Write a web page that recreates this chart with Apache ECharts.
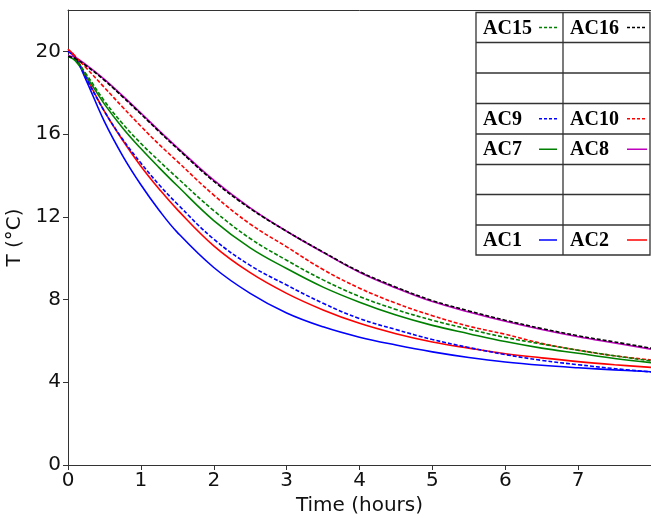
<!DOCTYPE html>
<html><head><meta charset="utf-8">
<script src="https://cdn.jsdelivr.net/npm/echarts@6/dist/echarts.min.js"></script>
<style>html,body{margin:0;padding:0;background:#fff}#c{width:651px;height:518px}</style>
</head><body><div id="c"></div><script>
const hours = [0,0.1,0.25,0.5,0.75,1,1.25,1.5,2,2.5,3,3.5,4,4.5,5,5.5,6,6.5,7,7.5,8];
const AC1  = [20.0,19.7,18.6,16.6,14.95,13.55,12.32,11.25,9.55,8.3,7.35,6.68,6.18,5.8,5.47,5.2,4.98,4.82,4.7,4.6,4.51];
const AC2  = [20.1,19.75,18.75,17.1,15.7,14.45,13.35,12.35,10.6,9.3,8.3,7.5,6.85,6.35,5.95,5.65,5.38,5.18,5.0,4.85,4.72];
const AC7  = [19.75,19.55,18.8,17.45,16.3,15.3,14.38,13.5,11.82,10.5,9.5,8.6,7.87,7.25,6.75,6.35,5.97,5.65,5.4,5.15,4.95];
const AC8  = [19.8,19.7,19.35,18.65,17.85,17.02,16.17,15.35,13.77,12.43,11.3,10.28,9.32,8.56,7.9,7.4,6.95,6.55,6.2,5.9,5.6];
const AC9  = [20.0,19.7,18.7,17.1,15.75,14.6,13.55,12.62,10.92,9.65,8.7,7.82,7.08,6.55,6.07,5.68,5.34,5.06,4.85,4.66,4.5];
const AC10 = [20.1,19.75,19.2,18.25,17.3,16.38,15.5,14.68,13.05,11.65,10.55,9.45,8.55,7.82,7.22,6.71,6.32,5.88,5.55,5.28,5.08];
const AC15 = [19.75,19.6,18.9,17.6,16.5,15.55,14.7,13.88,12.3,10.95,9.9,8.95,8.15,7.52,7.0,6.57,6.17,5.85,5.55,5.28,5.03];
const AC16 = [19.75,19.65,19.3,18.6,17.8,16.97,16.12,15.3,13.72,12.4,11.3,10.3,9.35,8.6,7.95,7.45,7.0,6.6,6.25,5.95,5.65];
const xTicks = [0,1,2,3,4,5,6,7];
const yTicks = [0,4,8,12,16,20];

const seriesDefs = [
  {name:'AC1', data:AC1, color:'#0000ff', dashed:false},
  {name:'AC2', data:AC2, color:'#ff0000', dashed:false},
  {name:'AC7', data:AC7, color:'#008000', dashed:false},
  {name:'AC8', data:AC8, color:'#bf00bf', dashed:false},
  {name:'AC9', data:AC9, color:'#0000ff', dashed:true},
  {name:'AC10', data:AC10, color:'#ff0000', dashed:true},
  {name:'AC15', data:AC15, color:'#008000', dashed:true},
  {name:'AC16', data:AC16, color:'#000000', dashed:true}
];
const byName = {};
seriesDefs.forEach(s => byName[s.name] = s);

// legend table layout (decoration only)
const tblL = 476, tblM = 563, tblR = 650;
const rowY = [12.5, 42.5, 73, 103.5, 134, 164.5, 194.5, 225, 255];
const legendRows = [['AC15','AC16'],null,null,['AC9','AC10'],['AC7','AC8'],null,null,['AC1','AC2']];

const graphics = [];
graphics.push({type:'rect', shape:{x:tblL, y:rowY[0], width:tblR-tblL, height:rowY[8]-rowY[0]},
  style:{fill:'#fff', stroke:'#333', lineWidth:1.3}, z:100});
rowY.slice(1,8).forEach(y => graphics.push({type:'line', shape:{x1:tblL,y1:y,x2:tblR,y2:y}, style:{stroke:'#333', lineWidth:1.3}, z:101}));
graphics.push({type:'line', shape:{x1:tblM,y1:rowY[0],x2:tblM,y2:rowY[8]}, style:{stroke:'#333', lineWidth:1.3}, z:101});
legendRows.forEach((row, i) => {
  if (!row) return;
  const mid = (rowY[i] + rowY[i+1]) / 2;
  row.forEach((nm, j) => {
    const s = byName[nm];
    const tx = j === 0 ? 483 : 570;
    const lx1 = j === 0 ? 539 : 627;
    const lx2 = j === 0 ? 557 : 647;
    graphics.push({type:'text', x:tx, y:mid+1, style:{text:nm, font:'bold 20px "Liberation Serif", "Times New Roman", serif', fill:'#000', verticalAlign:'middle', align:'left'}, z:102});
    graphics.push({type:'line', shape:{x1:lx1,y1:mid,x2:lx2,y2:mid}, style:{stroke:s.color, lineWidth:1.5, lineDash: s.dashed ? [3,2] : null}, z:102});
  });
});

const chart = echarts.init(document.getElementById('c'), null, {renderer:'canvas'});
chart.setOption({
  animation:false,
  backgroundColor:'#fff',
  grid:{left:68, right:0, top:10, bottom:53, containLabel:false, outerBoundsMode:'none'},
  xAxis:[{type:'value', min:0, max:8, interval:1,
    name:'Time (hours)', nameLocation:'middle', nameGap:30,
    nameTextStyle:{fontFamily:'DejaVu Sans', fontSize:20, color:'#111'},
    axisLine:{show:true, onZero:false, lineStyle:{color:'#333', width:1}},
    axisTick:{show:true, inside:false, length:5, lineStyle:{color:'#333'}, customValues:xTicks},
    axisLabel:{fontFamily:'DejaVu Sans', fontSize:20, color:'#111', margin:6, customValues:xTicks},
    splitLine:{show:false}},
   {type:'value', position:'top', min:0, max:8,
    axisLine:{show:true, onZero:false, lineStyle:{color:'#333', width:1}},
    axisTick:{show:false}, axisLabel:{show:false}, splitLine:{show:false}}],
  yAxis:{type:'value', min:0, max:22, interval:4,
    name:'T (°C)', nameLocation:'middle', nameGap:37, nameRotate:90,
    nameTextStyle:{fontFamily:'DejaVu Sans', fontSize:20, color:'#111'},
    axisLine:{show:true, onZero:false, lineStyle:{color:'#333', width:1}},
    axisTick:{show:true, inside:false, length:5, lineStyle:{color:'#333'}, customValues:yTicks},
    axisLabel:{fontFamily:'DejaVu Sans', fontSize:20, color:'#111', margin:7, customValues:yTicks},
    splitLine:{show:false}},
  series: seriesDefs.map(s => ({
    name:s.name, type:'line', smooth:0.4, symbol:'none', xAxisIndex:0,
    data: hours.map((h,i) => [h, s.data[i]]),
    lineStyle:{color:s.color, width:1.6, type: s.dashed ? [4,2] : 'solid'},
    itemStyle:{color:s.color}, z: s.dashed ? 3 : 2
  })),
  graphic: graphics
});
</script></body></html>
